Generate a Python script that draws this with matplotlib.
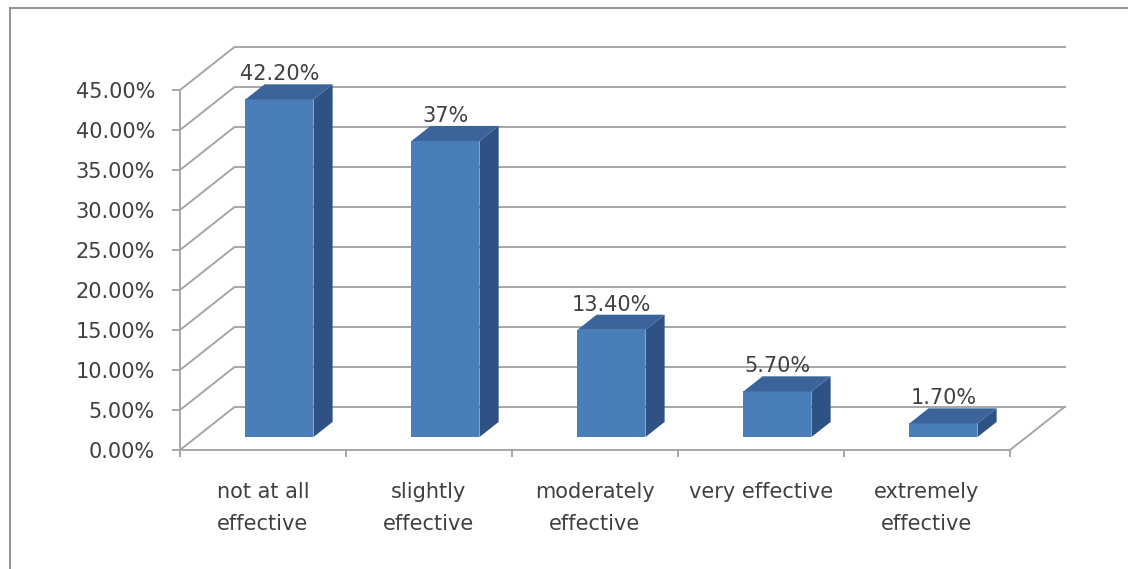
import matplotlib
matplotlib.use("Agg")
import matplotlib.pyplot as plt
from matplotlib.patches import Polygon
from matplotlib.lines import Line2D

# Survey results
categories = ["not at all\neffective", "slightly\neffective", "moderately\neffective",
              "very effective", "extremely\neffective"]
values = [42.2, 37.0, 13.4, 5.7, 1.7]
value_labels = ["42.20%", "37%", "13.40%", "5.70%", "1.70%"]
y_ticks = [0, 5, 10, 15, 20, 25, 30, 35, 40, 45]

W, H = 1128, 569
fig = plt.figure(figsize=(W / 100, H / 100), dpi=100)
fig.patch.set_facecolor("white")

# front plane of the chart in pixel terms
ax = fig.add_axes([180 / W, (H - 450) / H, 830 / W, 360 / H])
ax.set_xlim(0, len(values))
ax.set_ylim(0, 45)
ax.set_facecolor("none")

GRID = "#a6a6a6"
TEXT = "#404040"
FONT = "DejaVu Sans"
FS = 15

# oblique depth offset (in data units) of the back wall
DX, DY = 0.33, 5.4
Z0, Z1 = 0.30, 0.65   # bar depth extent
HW = 0.205            # half bar width

# walls: back grid lines and side-wall diagonals
for t in y_ticks:
    ax.add_line(Line2D([DX, len(values) + DX], [t + DY, t + DY], color=GRID, lw=1.4,
                       clip_on=False, zorder=1))
    ax.add_line(Line2D([0, DX], [t, t + DY], color=GRID, lw=1.4, clip_on=False, zorder=1))
# right edge of the floor
ax.add_line(Line2D([len(values), len(values) + DX], [0, DY], color=GRID, lw=1.4,
                   clip_on=False, zorder=1))

# 3-D columns
FRONT, SIDE, TOP = "#4a7ebb", "#2e5283", "#3a649a"
ddx, ddy = (Z1 - Z0) * DX, (Z1 - Z0) * DY
centers = [i + 0.5 + Z0 * DX for i in range(len(values))]
ax.bar(centers, values, width=2 * HW, bottom=Z0 * DY, color=FRONT, zorder=3,
       clip_on=False)
for c, v, lab in zip(centers, values, value_labels):
    xl, xr = c - HW, c + HW
    yb, yt = Z0 * DY, v + Z0 * DY
    ax.add_patch(Polygon([(xr, yb), (xr + ddx, yb + ddy), (xr + ddx, yt + ddy), (xr, yt)],
                         closed=True, facecolor=SIDE, edgecolor="none", zorder=3,
                         clip_on=False))
    ax.add_patch(Polygon([(xl, yt), (xr, yt), (xr + ddx, yt + ddy), (xl + ddx, yt + ddy)],
                         closed=True, facecolor=TOP, edgecolor="none", zorder=3,
                         clip_on=False))
    ax.annotate(lab, (c, yt + ddy), xytext=(0, 0), textcoords="offset points",
                ha="center", va="bottom", fontsize=FS, color=TEXT, family=FONT,
                zorder=4, annotation_clip=False)

# axes
for s in ["top", "right"]:
    ax.spines[s].set_visible(False)
for s in ["left", "bottom"]:
    ax.spines[s].set_color(GRID)
    ax.spines[s].set_linewidth(1.4)
    ax.spines[s].set_zorder(2)

ax.set_yticks(y_ticks)
ax.set_yticklabels([f"{t:.2f}%" for t in y_ticks], fontsize=FS, color=TEXT, family=FONT)
ax.tick_params(axis="y", direction="out", length=6, width=1.4, color=GRID, pad=12)

ax.set_xticks(range(len(values) + 1))
ax.set_xticklabels([])
ax.set_xticks([i + 0.5 for i in range(len(values))], minor=True)
ax.set_xticklabels(categories, minor=True, fontsize=FS, color=TEXT, family=FONT,
                   linespacing=1.75, va="top")
ax.tick_params(axis="x", which="major", direction="out", length=5, width=1.4, color=GRID)
ax.tick_params(axis="x", which="minor", length=0, pad=23)

# chart area border
fig.add_artist(Line2D([10 / W, 10 / W], [0, 1 - 8 / H], color="#8a8a8a", lw=1.3,
                      transform=fig.transFigure))
fig.add_artist(Line2D([10 / W, 1], [1 - 8 / H, 1 - 8 / H], color="#8a8a8a", lw=1.3,
                      transform=fig.transFigure))

fig.savefig("out.png", dpi=100)
